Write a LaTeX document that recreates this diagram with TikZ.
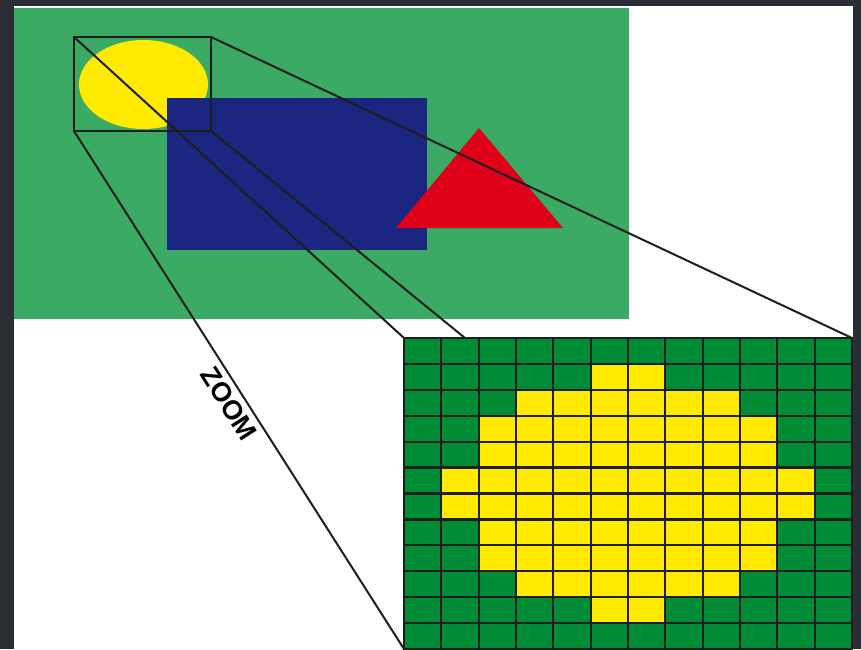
\documentclass[tikz,border=0pt]{standalone}
\usepackage{fontspec}
\setsansfont{Liberation Sans}
\usetikzlibrary{shapes.geometric}

\definecolor{framegray}{RGB}{43,45,53}
\definecolor{scenegreen}{RGB}{58,170,100}
\definecolor{pixgreen}{RGB}{0,140,52}
\definecolor{sunyellow}{RGB}{255,234,0}
\definecolor{blockblue}{RGB}{26,38,128}
\definecolor{trired}{RGB}{224,0,26}
\definecolor{edge}{RGB}{30,30,30}

\begin{document}
\begin{tikzpicture}[
  x=1pt, y=-1pt,
  flat/.style={inner sep=0pt, outer sep=0pt, anchor=north west},
  pixel/.style={flat, draw=edge, line width=2.2pt, fill=pixgreen, minimum width=37.333pt, minimum height=25.917pt},
  ray/.style={draw=edge, line width=2pt},
]
% frame and canvas
\fill[framegray] (0,0) rectangle (861,649);
\fill[white] (14,6) rectangle (853,649);
\useasboundingbox (0,0) rectangle (861,649);
% scene: background, ellipse, block, triangle
\node[flat, fill=scenegreen, minimum width=615pt, minimum height=311pt] (scene) at (14,8) {};
\node[ellipse, fill=sunyellow, inner sep=0pt, minimum width=129pt, minimum height=89pt] (sun) at (143.5,84.5) {};
\node[flat, fill=blockblue, minimum width=260pt, minimum height=152pt] (block) at (167,98) {};
\fill[trired] (479,128) -- (396,228) -- (563,228) -- cycle;
% zoom window and target grid
\node[flat, draw=edge, line width=2.4pt, minimum width=137pt, minimum height=94pt] (win) at (74,37) {};
\node[flat, minimum width=448pt, minimum height=311pt] (grid) at (404,338) {};
\coordinate (gridmark) at (465,338);
% projection rays
\draw[ray] (win.north west) -- (grid.north west);
\draw[ray] (win.north east) -- (grid.north east);
\draw[ray] (win.south east) -- (gridmark);
\draw[ray] (win.south west) -- node[pos=0.51, below=2pt, sloped, font=\fontsize{27}{27}\selectfont\sffamily\bfseries]{ZOOM} (grid.south west);
% pixels, 12 x 12
\foreach \r in {0,...,11}
  \foreach \c in {0,...,11}
    \node[pixel] (p-\r-\c) at ({404+\c*37.333},{338+\r*25.917}) {};
\foreach \r/\a/\b in {1/5/6, 2/3/8, 3/2/9, 4/2/9, 5/1/10, 6/1/10, 7/2/9, 8/2/9, 9/3/8, 10/5/6}
  \foreach \c in {\a,...,\b}
    \node[pixel, fill=sunyellow] at ({404+\c*37.333},{338+\r*25.917}) {};
\end{tikzpicture}
\end{document}
